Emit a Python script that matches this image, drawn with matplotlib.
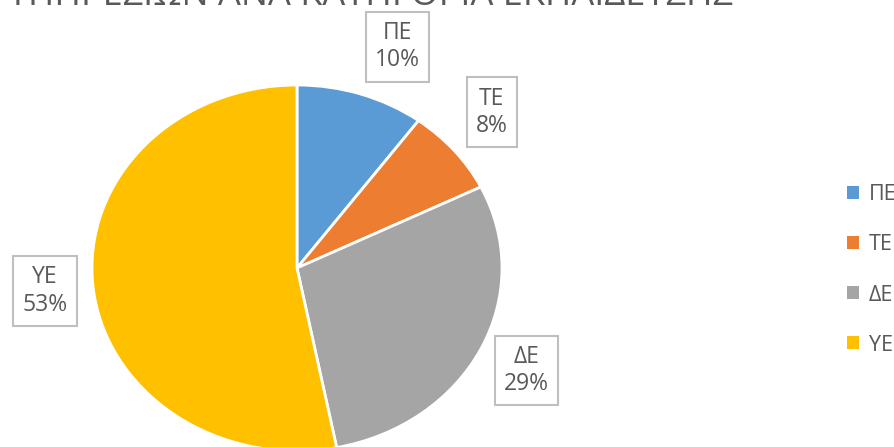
import matplotlib.pyplot as plt
from matplotlib.patches import Patch

plt.rcParams['font.family'] = ['Open Sans', 'DejaVu Sans']

# categories and shares (%)
categories = ["ΠΕ", "ΤΕ", "ΔΕ", "ΥΕ"]
shares = [10.1, 7.6, 29.2, 53.1]
colors = ["#5B9BD5", "#ED7D31", "#A5A5A5", "#FFC000"]
title = "ΚΑΤΑΝΟΜΗ ΥΠΑΛΛΗΛΩΝ ΥΠΗΡΕΣΙΩΝ ΑΝΑ ΚΑΤΗΓΟΡΙΑ ΕΚΠΑΙΔΕΥΣΗΣ"

# where the data labels sit (axes data units)
label_pos = [(0.49, 1.21), (0.95, 0.85), (1.12, -0.56), (-1.23, -0.126)]

W, H = 895, 447
fig = plt.figure(figsize=(W / 100, H / 100), dpi=100)

# pie is drawn slightly stretched, like the original
cx, cy, rx, ry = 297, 268, 205, 183
ax = fig.add_axes([(cx - rx) / W, (H - cy - ry) / H, 2 * rx / W, 2 * ry / H])
ax.pie(shares, colors=colors, startangle=90, counterclock=False,
       wedgeprops=dict(edgecolor="white", linewidth=2))
ax.set_aspect("auto")
ax.set_xlim(-1, 1)
ax.set_ylim(-1, 1)
ax.axis("off")

for cat, val, (x, y) in zip(categories, shares, label_pos):
    ax.text(x, y, f"{cat}\n{round(val)}%", ha="center", va="center",
            fontsize=16.5, color="#595959", linespacing=1.2, clip_on=False,
            bbox=dict(boxstyle="square,pad=0.4", fc="white", ec="#BFBFBF", lw=1.5))

fig.text(733 / W, (H - 5) / H, title, ha="right", va="baseline",
         fontsize=26, color="#595959")

handles = [Patch(facecolor=c, edgecolor="none") for c in colors]
fig.legend(handles, categories, loc="center left", bbox_to_anchor=(828 / W, (H - 270) / H),
           frameon=False, fontsize=15.5, labelcolor="#595959",
           handlelength=0.55, handleheight=0.55, handletextpad=0.45, labelspacing=1.35)

fig.savefig("out.png", dpi=100)
